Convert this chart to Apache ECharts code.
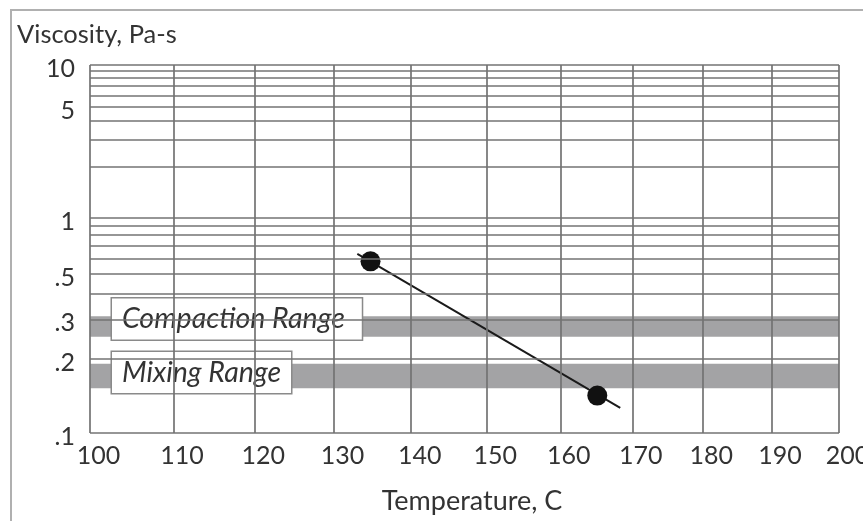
<!DOCTYPE html>
<html lang="en">
<head>
	<meta charset="UTF-8">
	<title>Viscosity vs Temperature</title>
</head>
<style>
	html, body { margin: 0; padding: 0; background: #fff; }
	#main { width: 863px; height: 521px; }
</style>
<body>
	<div id="main"></div>
	<script src="https://cdn.jsdelivr.net/npm/echarts@6/dist/echarts.min.js"></script>
	<script>
		// tick labels
		var tempTicks = [100, 110, 120, 130, 140, 150, 160, 170, 180, 190, 200];
		var viscTicks = [0.1, 0.2, 0.3, 0.5, 1, 5, 10];
		var viscTickText = ['.1', '.2', '.3', '.5', '1', '5', '10'];
		// horizontal rulings of the chart paper
		var viscRulings = [0.1, 0.2, 0.3, 0.4, 0.5, 0.6, 0.7, 0.8, 0.9, 1, 2, 3, 4, 5, 6, 7, 8, 9, 10];
		// ranges, Pa-s
		var rangeNames = ['Compaction Range', 'Mixing Range'];
		var rangeLow = [0.25, 0.15];
		var rangeHigh = [0.31, 0.19];
		// measured points
		var pointTemp = [134.7, 165.1];
		var pointVisc = [0.58, 0.14];
		// drawn line through them
		var lineTemp = [133.0, 168.3];
		var lineVisc = [0.634, 0.125];

		// chart paper: log of absolute temperature, log-log of viscosity (mPa-s)
		var tx = function(t){ return Math.log10(t + 273.15); };
		var ty = function(v){ return Math.log10(Math.log10(v * 1000)); };

		var font = 'Lato';
		var gridColor = '#737373';

		var myChart = echarts.init(document.getElementById('main'));

		var rulings = [];
		viscRulings.forEach(function(v){ rulings.push({yAxis: ty(v)}); });
		tempTicks.forEach(function(t){ rulings.push({xAxis: tx(t)}); });

		var labelOffset = [[22, -7.5], [22, -3.5]];
		var labelPad = [[6, 17, 6, 10], [6, 10, 6, 10]];
		var areas = rangeNames.map(function(name, i){
			return [{
				yAxis: ty(rangeHigh[i]),
				name: name,
				label: {offset: labelOffset[i], padding: labelPad[i]}
			}, {
				yAxis: ty(rangeLow[i])
			}];
		});

		var option = {
			animation: false,
			title: {
				text: 'Viscosity, Pa-s',
				left: 12,
				top: 17,
				textStyle: {fontFamily: font, fontSize: 25.5, fontWeight: 'normal', color: '#333'}
			},
			graphic: [{
				type: 'rect',
				shape: {x: 11, y: 10, width: 900, height: 600},
				style: {fill: null, stroke: '#b0b0b0', lineWidth: 2},
				silent: true
			}],
			grid: {left: 90, right: 24, top: 65, bottom: 88, containLabel: false, outerBoundsMode: 'none'},
			xAxis: {
				type: 'value',
				min: tx(100),
				max: tx(200),
				name: 'Temperature, C',
				nameLocation: 'middle',
				nameGap: 55,
				nameTextStyle: {fontFamily: font, fontSize: 27, color: '#333', padding: [0, 0, 0, 15]},
				axisLine: {show: false},
				axisTick: {show: false},
				splitLine: {show: false},
				axisLabel: {
					customValues: tempTicks.map(tx),
					formatter: function(val){ return '{t|' + Math.round(Math.pow(10, val) - 273.15) + '}'; },
					rich: {
						t: {fontFamily: font, fontSize: 25, color: '#333', padding: [0, 0, 0, 17]}
					},
					fontFamily: font,
					fontSize: 25,
					color: '#333',
					margin: 10,
					showMaxLabel: true,
					showMinLabel: true
				}
			},
			yAxis: {
				type: 'value',
				min: ty(0.1),
				max: ty(10),
				axisLine: {show: false},
				axisTick: {show: false},
				splitLine: {show: false},
				axisLabel: {
					customValues: viscTicks.map(ty),
					formatter: function(val){
						var v = Math.pow(10, Math.pow(10, val)) / 1000;
						var best = 0;
						viscTicks.forEach(function(t, i){
							if (Math.abs(Math.log(t / v)) < Math.abs(Math.log(viscTicks[best] / v))) best = i;
						});
						return '{v|' + viscTickText[best] + '}';
					},
					rich: {
						v: {fontFamily: font, fontSize: 25, color: '#333', padding: [8, 0, 0, 0]}
					},
					fontFamily: font,
					fontSize: 25,
					color: '#333',
					margin: 15
				}
			},
			series: [{
				type: 'line',
				data: [],
				z: 1,
				silent: true,
				markLine: {
					silent: true,
					precision: 10,
					symbol: 'none',
					label: {show: false},
					lineStyle: {color: gridColor, width: 1.7, type: 'solid'},
					data: rulings
				}
			}, {
				type: 'line',
				data: [],
				z: 2,
				silent: true,
				markArea: {
					silent: true,
					precision: 10,
					itemStyle: {color: '#a3a3a5'},
					label: {
						show: true,
						position: 'insideLeft',
						distance: 0,
						fontFamily: font,
						fontStyle: 'italic',
						fontSize: 28.5,
						color: '#333',
						backgroundColor: '#fff',
						borderColor: '#8a8a8a',
						borderWidth: 1.5
					},
					data: areas
				}
			}, {
				type: 'line',
				z: 3,
				symbol: 'none',
				lineStyle: {color: '#1a1a1a', width: 2},
				data: lineTemp.map(function(t, i){ return [tx(t), ty(lineVisc[i])]; })
			}, {
				type: 'scatter',
				z: 4,
				symbolSize: 20,
				itemStyle: {color: '#111', opacity: 1},
				data: pointTemp.map(function(t, i){ return [tx(t), ty(pointVisc[i])]; })
			}]
		};
		myChart.setOption(option);
	</script>
</body>
</html>
